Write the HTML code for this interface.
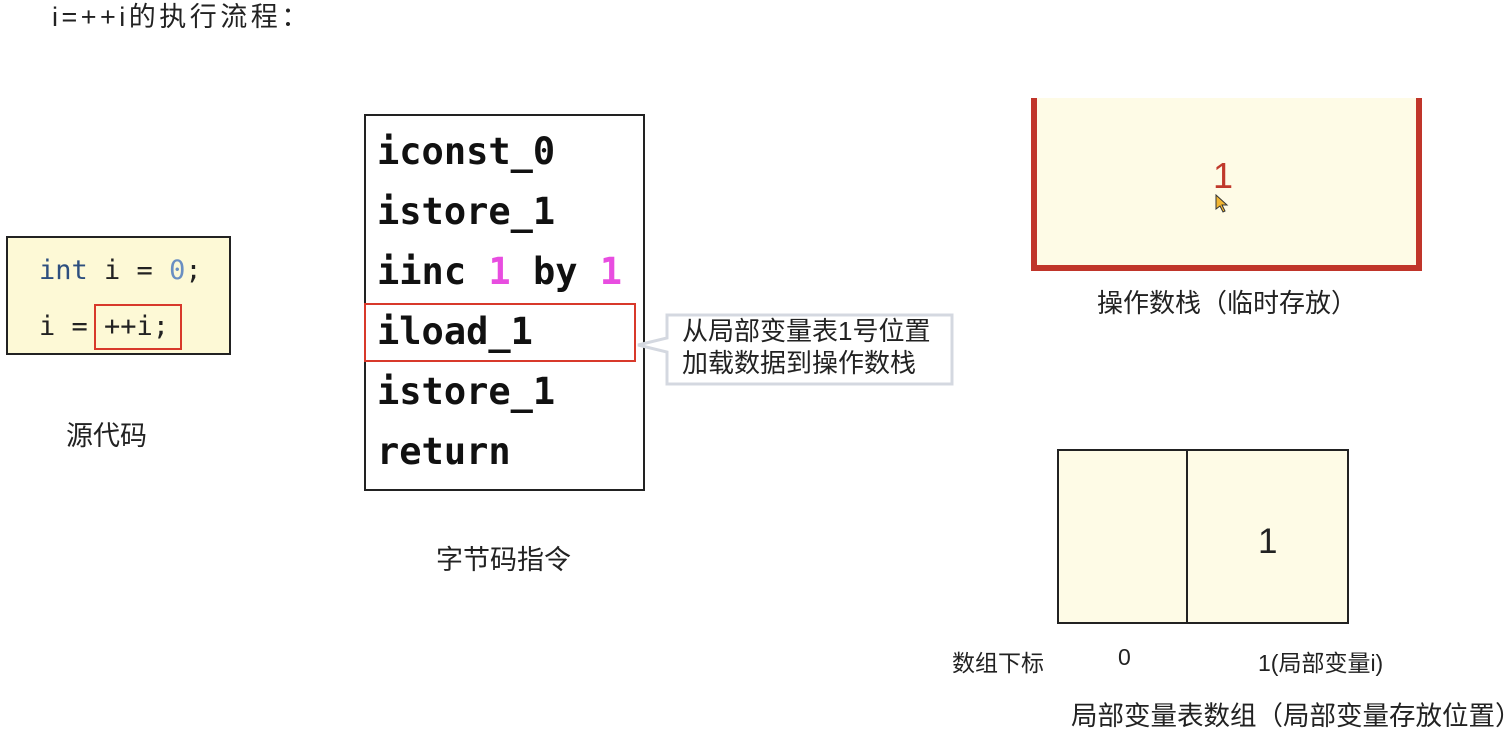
<!DOCTYPE html>
<html><head><meta charset="utf-8"><style>
body{margin:0;width:1512px;height:732px;background:#fff;position:relative;overflow:hidden;font-family:"Liberation Sans","Noto Sans CJK SC",sans-serif;color:#222}
.a{position:absolute;white-space:nowrap}
.m{font-family:"DejaVu Sans Mono","Liberation Mono",monospace}
</style></head><body>
<div class="a" style="left:52px;top:-2px;font-size:27px;line-height:38px;letter-spacing:3.5px">i=++i的执行流程：</div>

<div class="a" style="left:6px;top:236px;width:225px;height:119px;background:#fdf9d6;border:2px solid #222;box-sizing:border-box"></div>
<div class="a m" style="left:39px;top:254px;font-size:27px;line-height:34px"><span style="color:#2d4f7f">int</span> i = <span style="color:#6a8fc2">0</span>;</div>
<div class="a m" style="left:39px;top:310px;font-size:27px;line-height:34px">i = ++i;</div>
<div class="a" style="left:94px;top:304px;width:88px;height:46px;border:2px solid #d8392b;box-sizing:border-box"></div>
<div class="a" style="left:66px;top:414px;font-size:27px">源代码</div>

<div class="a" style="left:364px;top:114px;width:281px;height:377px;border:2px solid #222;box-sizing:border-box"></div>
<div class="a m" style="left:377px;top:122px;font-size:37px;line-height:60px;font-weight:bold;color:#111">iconst_0<br>istore_1<br>iinc <span style="color:#e84de0">1</span> by <span style="color:#e84de0">1</span><br>iload_1<br>istore_1<br>return</div>
<div class="a" style="left:364px;top:303px;width:272px;height:59px;border:2px solid #d8392b;box-sizing:border-box"></div>
<div class="a" style="left:436px;top:538px;font-size:27px">字节码指令</div>

<svg class="a" style="left:630px;top:310px" width="330" height="80">
<path d="M37 5 H322 V74 H37 V42 L8 35 L37 28 Z" fill="#fff" stroke="#d4d8e0" stroke-width="3"/>
</svg>
<div class="a" style="left:682px;top:315px;font-size:26px;line-height:32px">从局部变量表1号位置<br>加载数据到操作数栈</div>

<div class="a" style="left:1034px;top:98px;width:386px;height:170px;background:#fefbe6"></div>
<div class="a" style="left:1031px;top:98px;width:6px;height:173px;background:#c0352a"></div>
<div class="a" style="left:1416px;top:98px;width:6px;height:173px;background:#c0352a"></div>
<div class="a" style="left:1031px;top:265px;width:391px;height:6px;background:#c0352a"></div>
<div class="a" style="left:1213px;top:155px;font-size:36px;color:#c0392b">1</div>
<svg class="a" style="left:1215px;top:194px" width="16" height="20"><path d="M1 1 L1 15 L5 12 L8 18 L10 17 L7 11 L12 11 Z" fill="#f2b632" stroke="#333" stroke-width="1"/></svg>
<div class="a" style="left:1097px;top:283px;font-size:26px">操作数栈（临时存放）</div>

<div class="a" style="left:1057px;top:449px;width:292px;height:175px;background:#fefbe6;border:2px solid #222;box-sizing:border-box"></div>
<div class="a" style="left:1186px;top:449px;width:2px;height:175px;background:#222"></div>
<div class="a" style="left:1258px;top:522px;font-size:35px">1</div>
<div class="a" style="left:952px;top:644px;font-size:23px">数组下标</div>
<div class="a" style="left:1118px;top:644px;font-size:23px">0</div>
<div class="a" style="left:1258px;top:644px;font-size:23px">1(局部变量i)</div>
<div class="a" style="left:1071px;top:694px;font-size:26.5px">局部变量表数组（局部变量存放位置）</div>
</body></html>
